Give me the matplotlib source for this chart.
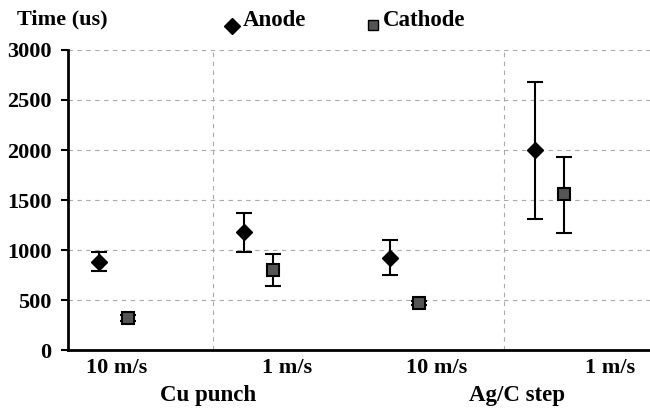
import matplotlib
matplotlib.use('Agg')
from matplotlib import pyplot as plt
from matplotlib.transforms import blended_transform_factory

# values
groups = ['Cu punch', 'Ag/C step']
speeds = ['10 m/s', '1 m/s', '10 m/s', '1 m/s']
anode = [880, 1180, 920, 2000]
anode_hi = [980, 1370, 1100, 2680]
anode_lo = [790, 980, 750, 1310]
cathode = [320, 800, 470, 1560]
cathode_hi = [350, 960, 490, 1930]
cathode_lo = [290, 640, 450, 1170]
yticks = [0, 500, 1000, 1500, 2000, 2500, 3000]

plt.rcParams['font.family'] = ['Liberation Serif', 'DejaVu Serif']
plt.rcParams['font.weight'] = 'bold'

fig = plt.figure(figsize=(6.5, 4.08), dpi=100)
ax = fig.add_axes([0.1046, 0.142, 0.8954, 0.7355])

xa = [i + 0.21 for i in range(4)]
xc = [i + 0.41 for i in range(4)]

ea = [[v - l for v, l in zip(anode, anode_lo)], [h - v for v, h in zip(anode, anode_hi)]]
ec = [[v - l for v, l in zip(cathode, cathode_lo)], [h - v for v, h in zip(cathode, cathode_hi)]]

ax.errorbar(xa, anode, yerr=ea, fmt='D', color='black', ms=8, capsize=6,
            elinewidth=1.5, capthick=1.5, zorder=3)
ax.errorbar(xc, cathode, yerr=ec, fmt='s', mfc='#555555', mec='black', ecolor='black',
            ms=9, mew=1.5, capsize=6, elinewidth=1.5, capthick=1.5, zorder=3)

ax.set_xlim(0, 4)
ax.set_ylim(0, 3000)
ax.set_yticks(yticks)
ax.tick_params(axis='y', direction='out', length=5, width=1.5, labelsize=16, pad=7)
ax.tick_params(axis='x', length=0, pad=6)
ax.set_xticks([0.337, 1.505, 2.536, 3.725])
ax.set_xticklabels(speeds, fontsize=16, fontweight='bold')

for v in yticks[1:]:
    ax.axhline(v, color='#aaaaaa', lw=0.8, ls=(0, (4, 4)), zorder=1)
for v in [1, 3]:
    ax.axvline(v, color='#aaaaaa', lw=0.8, ls=(0, (4, 4)), zorder=1)

for s in ['top', 'right']:
    ax.spines[s].set_visible(False)
ax.spines['left'].set_linewidth(2)
ax.spines['bottom'].set_linewidth(2)

tr = blended_transform_factory(ax.transData, fig.transFigure)
ax.text(0.962, 1 - 396 / 408, groups[0], transform=tr, ha='center', va='center',
        fontsize=16.5, fontweight='bold')
ax.text(3.086, 1 - 396 / 408, groups[1], transform=tr, ha='center', va='center',
        fontsize=16.5, fontweight='bold')

fig.text(17 / 650, 1 - 19 / 408, 'Time (us)', fontsize=16, fontweight='bold', va='center')
fig.lines.append(plt.Line2D([232 / 650], [1 - 26 / 408], marker='D', color='black', ms=8,
                            transform=fig.transFigure))
fig.text(243 / 650, 1 - 21 / 408, 'Anode', fontsize=16.5, fontweight='bold', va='center')
fig.lines.append(plt.Line2D([373 / 650], [1 - 25 / 408], marker='s', mfc='#555555', mec='black',
                            ms=7, transform=fig.transFigure))
fig.text(383 / 650, 1 - 21 / 408, 'Cathode', fontsize=16.5, fontweight='bold', va='center')

plt.savefig('out.png', dpi=100)
